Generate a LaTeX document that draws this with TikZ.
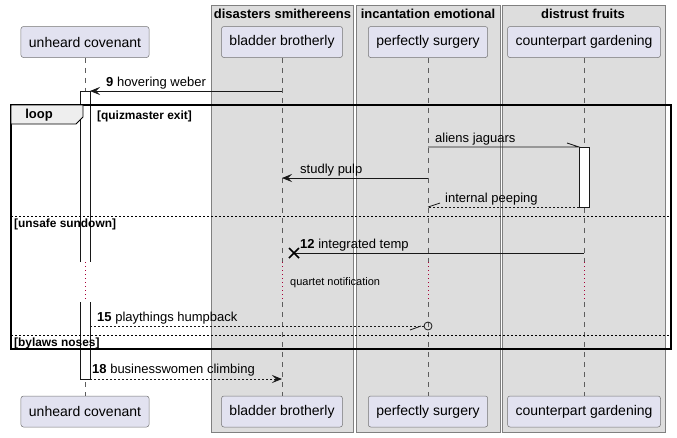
\documentclass[tikz,border=0pt]{standalone}
\usepackage{fontspec}
\setmainfont{Liberation Sans}
\usetikzlibrary{arrows.meta}
\definecolor{partfill}{HTML}{E2E2F0}
\definecolor{partline}{HTML}{181818}
\definecolor{boxfill}{HTML}{DDDDDD}
\definecolor{tabfill}{HTML}{EEEEEE}
\definecolor{delayred}{HTML}{A80036}

\begin{document}
\begin{tikzpicture}[x=1pt,y=-1pt,
  part/.style={draw=partline!60, line width=0.5pt, fill=partfill, rounded corners=2.5pt,
    minimum height=31pt, inner xsep=8pt, font=\fontsize{14}{16}\selectfont},
  grp/.style={draw=gray, line width=0.6pt, fill=boxfill},
  grptitle/.style={inner sep=0pt, font=\fontsize{13}{15}\selectfont\bfseries},
  lifeline/.style={draw=partline!70, line width=0.5pt, dash pattern=on 5pt off 5pt},
  delay/.style={draw=delayred, line width=1pt, dash pattern=on 1pt off 3pt},
  msg/.style={draw=partline, line width=0.8pt},
  ret/.style={msg, dash pattern=on 2pt off 2pt},
  head/.style={-{Stealth[length=10pt,width=8pt,inset=4pt]}},
  lbl/.style={anchor=base west, inner sep=0pt, font=\fontsize{13}{15}\selectfont},
  guard/.style={anchor=west, inner sep=0pt, font=\fontsize{11.9}{13}\selectfont\bfseries},
  act/.style={draw=partline, line width=0.8pt, fill=white}
]
\useasboundingbox (0,0) rectangle (677,437);

% the three grey boxes behind the participants
\draw[grp] (211,5) rectangle (353,432);
\draw[grp] (356,5) rectangle (500,432);
\draw[grp] (502,5) rectangle (665,432);
\node[grptitle] (g1) at (282.5,14) {disasters smithereens};
\node[grptitle] (g2) at (428,14) {incantation emotional};
\node[grptitle] (g3) at (583,14) {distrust fruits};

% participants, top row and bottom row
\node[part] (ucTop) at (85,42) {unheard covenant};
\node[part] (bbTop) at (282,42) {bladder brotherly};
\node[part] (psTop) at (428,42) {perfectly surgery};
\node[part] (cgTop) at (584,42) {counterpart gardening};
\node[part] (ucBot) at (85,411.5) {unheard covenant};
\node[part] (bbBot) at (282,411.5) {bladder brotherly};
\node[part] (psBot) at (428,411.5) {perfectly surgery};
\node[part] (cgBot) at (584,411.5) {counterpart gardening};

% lifelines, cut by the delay
\coordinate (dlyTop) at (0,262);
\coordinate (dlyBot) at (0,302);
\foreach \p in {uc,bb,ps,cg}{
  \draw[lifeline] (\p Top.south) -- (\p Top.south |- dlyTop);
  \draw[delay] (\p Top.south |- dlyTop) -- (\p Top.south |- dlyBot);
  \draw[lifeline] (\p Top.south |- dlyBot) -- (\p Bot.north);
}

% activations
\fill[white] (80,91) rectangle (90,262);
\fill[white] (80,302) rectangle (90,379);
\draw[act, fill=none] (80,262) -- (80,91) -- (90,91) -- (90,262);
\draw[act, fill=none] (80,302) -- (80,379) -- (90,379) -- (90,302);
\draw[act] (579,147) rectangle (589,207);

% loop frame
\draw[line width=1.5pt] (11,105) rectangle (671,349);
\draw[line width=0.8pt, fill=tabfill] (11,105) -- (83,105) -- (83,117) -- (76,124) -- (11,124) -- cycle;
\node[font=\fontsize{13}{15}\selectfont\bfseries, inner sep=0pt] (loopT) at (39,115) {loop};
\node[guard] (gd1) at (97,116) {[quizmaster exit]};
\draw[line width=0.6pt, dash pattern=on 2pt off 2pt] (11,216) -- (671,216);
\node[guard] (gd2) at (14,224) {[unsafe sundown]};
\draw[line width=0.6pt, dash pattern=on 2pt off 2pt] (11,335) -- (671,335);
\node[guard] (gd3) at (14,343) {[bylaws noses]};

% messages
\coordinate (m9a) at (282,91);
\coordinate (m9b) at (90,91);
\draw[msg, head] (m9a) -- (m9b);
\node[lbl] (t9) at (106,86) {\textbf{9} hovering weber};

\coordinate (ajA) at (428,147);
\coordinate (ajB) at (579,147);
\draw[msg] (ajA) -- (ajB) -- ++(-12,-4);
\node[lbl] (tAJ) at (435,142) {aliens jaguars};

\coordinate (spA) at (428,178);
\coordinate (spB) at (282,178);
\draw[msg, head] (spA) -- (spB);
\node[lbl] (tSP) at (300,173) {studly pulp};

\coordinate (ipA) at (579,207);
\coordinate (ipB) at (428,207);
\draw[ret] (ipA) -- (ipB);
\draw[msg] (ipB) -- ++(12,-4);
\node[lbl] (tIP) at (445,202) {internal peeping};

\coordinate (itA) at (584,253);
\coordinate (itB) at (294,253);
\draw[msg] (itA) -- (itB);
\draw[line width=1.6pt] (itB) ++(-5,-5) -- ++(10,10) (itB) ++(-5,5) -- ++(10,-10);
\node[lbl] (tIT) at (300,248) {\textbf{12} integrated temp};

\node[anchor=west, inner sep=0pt, font=\fontsize{11}{13}\selectfont] (tQN) at (290,283) {quartet notification};

\coordinate (phA) at (90,326);
\coordinate (phB) at (428,326);
\draw[ret, shorten >=4pt] (phA) -- (phB);
\draw[msg] (phB) circle (4);
\draw[msg] (410,330) -- (421,326);
\node[lbl] (tPH) at (97,321) {\textbf{15} playthings humpback};

\coordinate (bcA) at (90,379);
\coordinate (bcB) at (282,379);
\draw[ret, head] (bcA) -- (bcB);
\node[lbl] (tBC) at (92,373) {\textbf{18} businesswomen climbing};
\end{tikzpicture}
\end{document}
